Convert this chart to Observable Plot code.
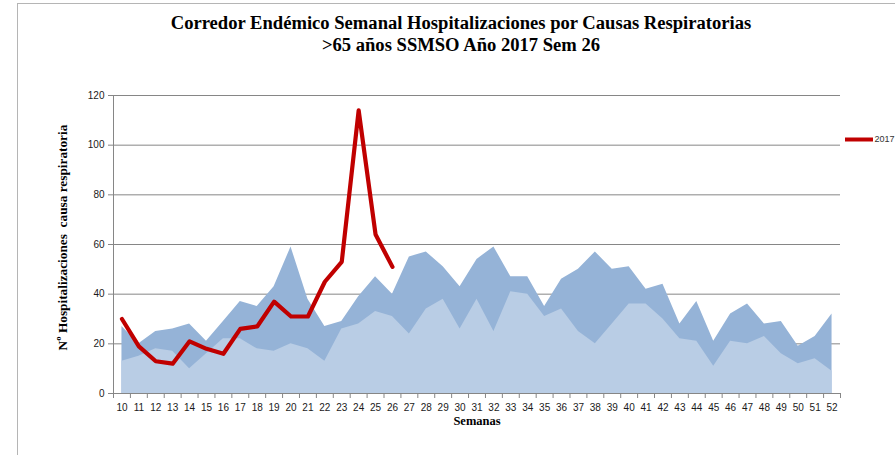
<!DOCTYPE html>
<html>
<head>
<meta charset="utf-8">
<script src="https://cdn.jsdelivr.net/npm/d3@7"></script>
<script src="https://cdn.jsdelivr.net/npm/@observablehq/plot@0.6"></script>
<style>
  html, body { margin: 0; padding: 0; background: #fff; }
  #wrap { position: relative; width: 895px; height: 455px; overflow: hidden; }
  #frame { position: absolute; left: 17px; top: 3px; width: 900px; height: 460px;
           border-left: 1px solid #b5b5b5; border-top: 1px solid #b5b5b5; }
  .title { position: absolute; left: 0; width: 922px; text-align: center;
           font-family: "Liberation Serif", serif; font-weight: bold; font-size: 18.6px; color: #000; }
  #chart { position: absolute; left: 0; top: 0; }
</style>
</head>
<body>
<div id="wrap">
  <div id="frame"></div>
  <div id="chart"></div>
  <div class="title" style="top:12px">Corredor Endémico Semanal Hospitalizaciones por Causas Respiratorias</div>
  <div class="title" style="top:34px">&gt;65 años SSMSO Año 2017 Sem 26</div>
</div>
<script>
const weeks = d3.range(10, 53);
const upper = [27,20,25,26,28,21,29,37,35,43,59,38,27,29,39,47,40,55,57,51,43,54,59,47,47,35,46,50,57,50,51,42,44,28,37,21,32,36,28,29,19,23,32];
const lower = [13,15,18,17,10,16,22,22,18,17,20,18,13,26,28,33,31,24,34,38,26,38,25,41,40,31,34,25,20,28,36,36,30,22,21,11,21,20,23,16,12,14,9];
const weeks2017 = d3.range(10, 27);
const cases2017 = [30,19,13,12,21,18,16,26,27,37,31,31,45,53,114,64,51];
const yTicks = [0,20,40,60,80,100,120];
const seriesName = "2017";

const corridor = weeks.map((w, i) => ({week: w, upper: upper[i], lower: lower[i]}));
const current = weeks2017.map((w, i) => ({week: w, value: cases2017[i]}));
const boundaries = [weeks[0] - 0.5, ...weeks.map(w => w + 0.5)];

const chart = Plot.plot({
  width: 895,
  height: 455,
  marginLeft: 113,
  marginRight: 55,
  marginTop: 95,
  marginBottom: 62,
  style: {fontFamily: "'Liberation Sans', sans-serif", fontSize: "10px", color: "#1a1a1a", background: "transparent"},
  x: {type: "linear", domain: [weeks[0] - 0.5, weeks[weeks.length - 1] + 0.5]},
  y: {type: "linear", domain: [0, 120]},
  marks: [
    Plot.gridY(yTicks, {stroke: "#868686", strokeOpacity: 1, strokeWidth: 1}),
    Plot.areaY(corridor, {x: "week", y: "upper", fill: "#95b3d7"}),
    Plot.areaY(corridor, {x: "week", y: "lower", fill: "#b9cde5"}),
    Plot.ruleY([0], {stroke: "#868686"}),
    Plot.ruleX([weeks[0] - 0.5], {y1: 0, y2: 120, stroke: "#868686"}),
    Plot.axisX(boundaries, {tickSize: 5, stroke: "#868686", tickFormat: () => "", label: null}),
    Plot.axisY(yTicks, {tickSize: 5, tickPadding: 4, stroke: "#868686", label: null}),
    Plot.axisX(weeks, {tickSize: 0, tickPadding: 10, label: null}),
    Plot.lineY(current, {x: "week", y: "value", stroke: "#c00000", strokeWidth: 4.2, strokeLinejoin: "round"}),
    Plot.text(["Semanas"], {frameAnchor: "bottom", dy: 31, fontFamily: "'Liberation Serif', serif", fontWeight: "bold", fontSize: 12.5, fill: "#000"}),
    Plot.text(["Nº Hospitalizaciones  causa respiratoria"], {frameAnchor: "left", textAnchor: "middle", dx: -51, dy: -7, rotate: -90, fontFamily: "'Liberation Serif', serif", fontWeight: "bold", fontSize: 13.3, fill: "#000"})
  ]
});
document.getElementById("chart").appendChild(chart);

// Legend
const legend = Plot.plot({
  width: 60, height: 20, margin: 0,
  x: {domain: [0, 60]}, y: {domain: [0, 20]},
  style: {background: "transparent", overflow: "visible"},
  axis: null,
  marks: [
    Plot.ruleY([10], {x1: 0, x2: 28, stroke: "#c00000", strokeWidth: 4}),
    Plot.text([seriesName], {x: 29, y: 10, textAnchor: "start", fontFamily: "'Liberation Sans', sans-serif", fontSize: 9, fill: "#333"})
  ]
});
legend.style.position = "absolute";
legend.style.left = "845px";
legend.style.top = "129px";
document.getElementById("wrap").appendChild(legend);
</script>
</body>
</html>
